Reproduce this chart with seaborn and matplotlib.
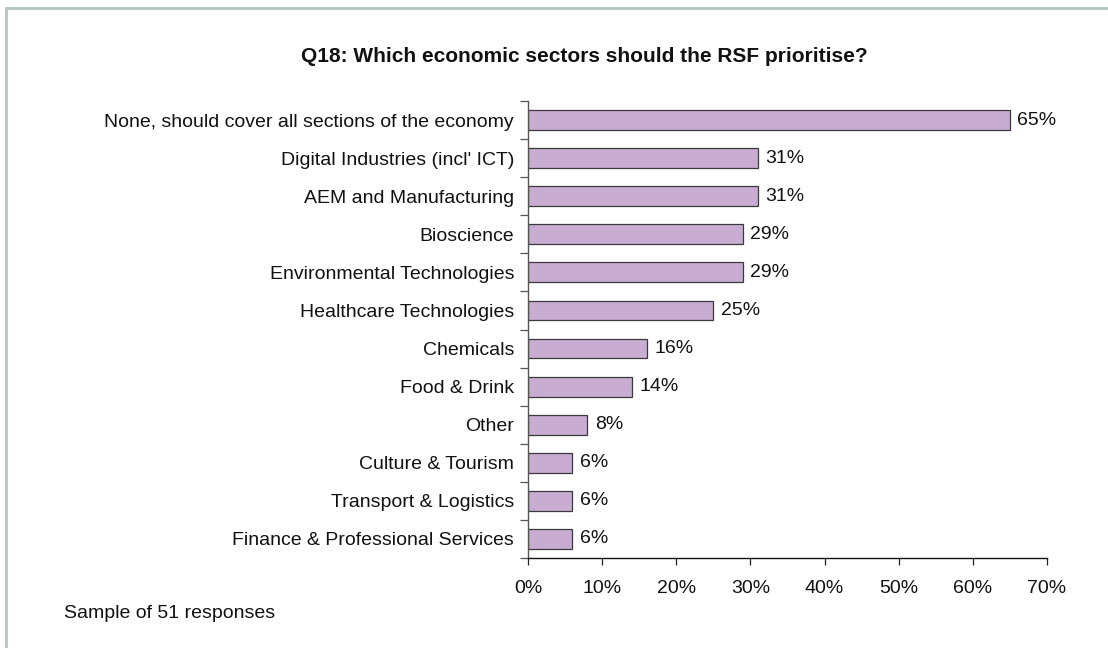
import matplotlib
matplotlib.use("Agg")
import matplotlib.pyplot as plt
from matplotlib.patches import Rectangle
from matplotlib.ticker import FixedLocator, PercentFormatter
import seaborn as sns
import pandas as pd
import numpy as np

# Survey results: share of respondents choosing each sector (%)
sectors = [
    "None, should cover all sections of the economy",
    "Digital Industries (incl' ICT)",
    "AEM and Manufacturing",
    "Bioscience",
    "Environmental Technologies",
    "Healthcare Technologies",
    "Chemicals",
    "Food & Drink",
    "Other",
    "Culture & Tourism",
    "Transport & Logistics",
    "Finance & Professional Services",
]
shares = [65, 31, 31, 29, 29, 25, 16, 14, 8, 6, 6, 6]
x_ticks = [0, 10, 20, 30, 40, 50, 60, 70]
title = "Q18: Which economic sectors should the RSF prioritise?"
note = "Sample of 51 responses"

df = pd.DataFrame({"sector": sectors, "share": shares})

sns.set_theme(style="white")
plt.rcParams["font.family"] = ["Liberation Sans", "DejaVu Sans"]

FS = 14
W, H = 1108, 648
fig = plt.figure(figsize=(W / 100, H / 100), dpi=100)
ax = fig.add_axes([528 / W, 1 - 558 / H, (1047 - 528) / W, (558 - 101) / H])

sns.barplot(
    data=df, x="share", y="sector", orient="h", ax=ax,
    color="#C8ACD2", saturation=1, width=0.52,
    edgecolor="#3a3a3a", linewidth=0.9,
)

ax.set_xlim(0, 70)
ax.set_ylim(len(sectors) - 0.5, -0.5)
ax.set_xlabel("")
ax.set_ylabel("")

# x axis: percent ticks pointing down
ax.xaxis.set_major_locator(FixedLocator(x_ticks))
ax.xaxis.set_major_formatter(PercentFormatter(decimals=0))
ax.tick_params(axis="x", which="major", direction="out", length=5, width=0.9,
               color="#222222", labelsize=FS, labelcolor="#111111", pad=11,
               bottom=True)

# y axis: labels at bar centres, tick marks at category boundaries
ax.tick_params(axis="y", which="major", length=0, labelsize=FS,
               labelcolor="#111111", pad=10)
ax.yaxis.set_minor_locator(FixedLocator(np.arange(-0.5, len(sectors), 1.0)))
ax.tick_params(axis="y", which="minor", direction="out", length=6, width=0.9,
               color="#555555", left=True)

for side in ("top", "right"):
    ax.spines[side].set_visible(False)
ax.spines["left"].set_color("#555555")
ax.spines["left"].set_linewidth(1.0)
ax.spines["bottom"].set_color("#111111")
ax.spines["bottom"].set_linewidth(1.0)

# value labels beside each bar
for i, v in enumerate(shares):
    ax.text(v + 1.0, i, f"{v}%", va="center", ha="left", fontsize=FS,
            color="#111111")

fig.text(584 / W, 1 - 57 / H, title, ha="center", va="center",
         fontsize=15, fontweight="bold", color="#111111")
fig.text(64 / W, 1 - 614 / H, note, ha="left", va="center",
         fontsize=FS, color="#111111")

# outer frame
fig.patches.append(Rectangle((6 / W, -0.05), 1.2, 1.05 - 8 / H,
                             transform=fig.transFigure, fill=False,
                             edgecolor="#B2C8BC", linewidth=2.0))

fig.savefig("out.png", dpi=100, facecolor="white")
